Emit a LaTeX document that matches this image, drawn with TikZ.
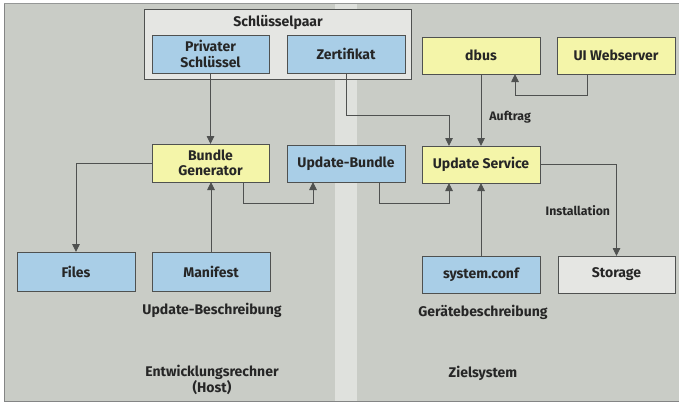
\documentclass[tikz,border=0pt]{standalone}
\usepackage{fontspec}
\setmainfont{Fira Sans}
\usetikzlibrary{arrows.meta,calc}
\definecolor{bgc}{HTML}{C9CCC6}
\definecolor{stripc}{HTML}{DFE1DD}
\definecolor{bluec}{HTML}{A9CEE7}
\definecolor{yellowc}{HTML}{F4F5A9}
\definecolor{greyc}{HTML}{E5E6E3}
\definecolor{linec}{HTML}{4F5150}
\definecolor{textc}{HTML}{262626}
\begin{document}
\begin{tikzpicture}[x=1pt,y=-1pt,
  box/.style={draw=linec, line width=0.8pt, minimum width=118pt, minimum height=37pt,
    inner sep=0pt, outer sep=0pt, align=center, text=textc,
    font=\fontsize{14}{15.5}\selectfont\bfseries},
  bluebox/.style={box, fill=bluec},
  yellowbox/.style={box, fill=yellowc},
  greybox/.style={box, fill=greyc},
  arr/.style={draw=linec, line width=0.9pt, -{Triangle[width=7.5pt,length=8pt]}},
  lbl/.style={text=textc, font=\fontsize{14}{15.5}\selectfont\bfseries, align=center, inner sep=0pt},
  small/.style={text=textc, font=\fontsize{12.3}{14}\selectfont\bfseries, inner sep=0pt}]
\useasboundingbox (0,0) rectangle (679,404);
\fill[white] (0,0) rectangle (679,404);
\fill[bgc] (4,3) rectangle (679,401);
\fill[stripc] (335,3) rectangle (357,401);
\draw[linec!70, line width=0.8pt] (4,3) -- (4,401) -- (679,401);
\draw[linec!60, line width=0.6pt] (4,3) -- (679,3);

% key pair group
\node[draw=linec, line width=0.8pt, fill=greyc, minimum width=267pt, minimum height=70pt, inner sep=0pt] (kp) at (277.5,44) {};
\node[lbl] (kpl) at (278,22) {Schlüsselpaar};

\node[bluebox, minimum width=117pt, minimum height=38pt] (psk) at (210.5,54) {Privater\\Schlüssel};
\node[bluebox, minimum height=38pt] (zert) at (346,54) {Zertifikat};
\node[yellowbox] (dbus) at (481,55.5) {dbus};
\node[yellowbox] (ui) at (616,55.5) {UI Webserver};
\node[yellowbox, minimum width=117pt, minimum height=38pt] (bgen) at (210.5,163) {Bundle\\Generator};
\node[bluebox] (ub) at (346,163.5) {Update-Bundle};
\node[yellowbox] (us) at (481,164.5) {Update Service};
\node[bluebox, minimum height=39pt] (files) at (76,271.5) {Files};
\node[bluebox, minimum height=39pt] (man) at (211,271.5) {Manifest};
\node[bluebox] (sys) at (481,274.5) {system.conf};
\node[greybox, minimum width=117pt] (sto) at (616.5,274.5) {Storage};

\node[lbl] (ubesch) at (212,310) {Update-Beschreibung};
\node[lbl] (host) at (212,380) {Entwicklungsrechner\\(Host)};
\node[lbl] (gbesch) at (483,312) {Gerätebeschreibung};
\node[lbl] (ziel) at (483,373) {Zielsystem};

% connectors
\draw[arr] (psk.south) -- (bgen.north);
\draw[arr] (bgen.west) -| (files.north);
\draw[arr] (man.north) -- (man.north |- bgen.south);
\draw[arr] ($(bgen.south)+(32.5,0)$) -- ++(0,21) -| ($(ub.south)+(-33,0)$);
\draw[arr] ($(ub.south)+(33,0)$) -- ++(0,21) -| ($(us.south)+(-32,0)$);
\draw[arr] (zert.south) -- ++(0,42) -| ($(us.north)+(-32,0)$);
\draw[arr] (dbus.south) -- (us.north) node[small, pos=0.6, anchor=west, xshift=8pt] {Auftrag};
\draw[arr] ($(ui.south)+(-29,0)$) -- ++(0,21) -| ($(dbus.south)+(34,0)$);
\draw[arr] (sys.north) -- (us.south);
\draw[arr] (us.east) -| (sto.north) node[small, pos=0.75, anchor=east, xshift=-6pt] {Installation};
\end{tikzpicture}
\end{document}
